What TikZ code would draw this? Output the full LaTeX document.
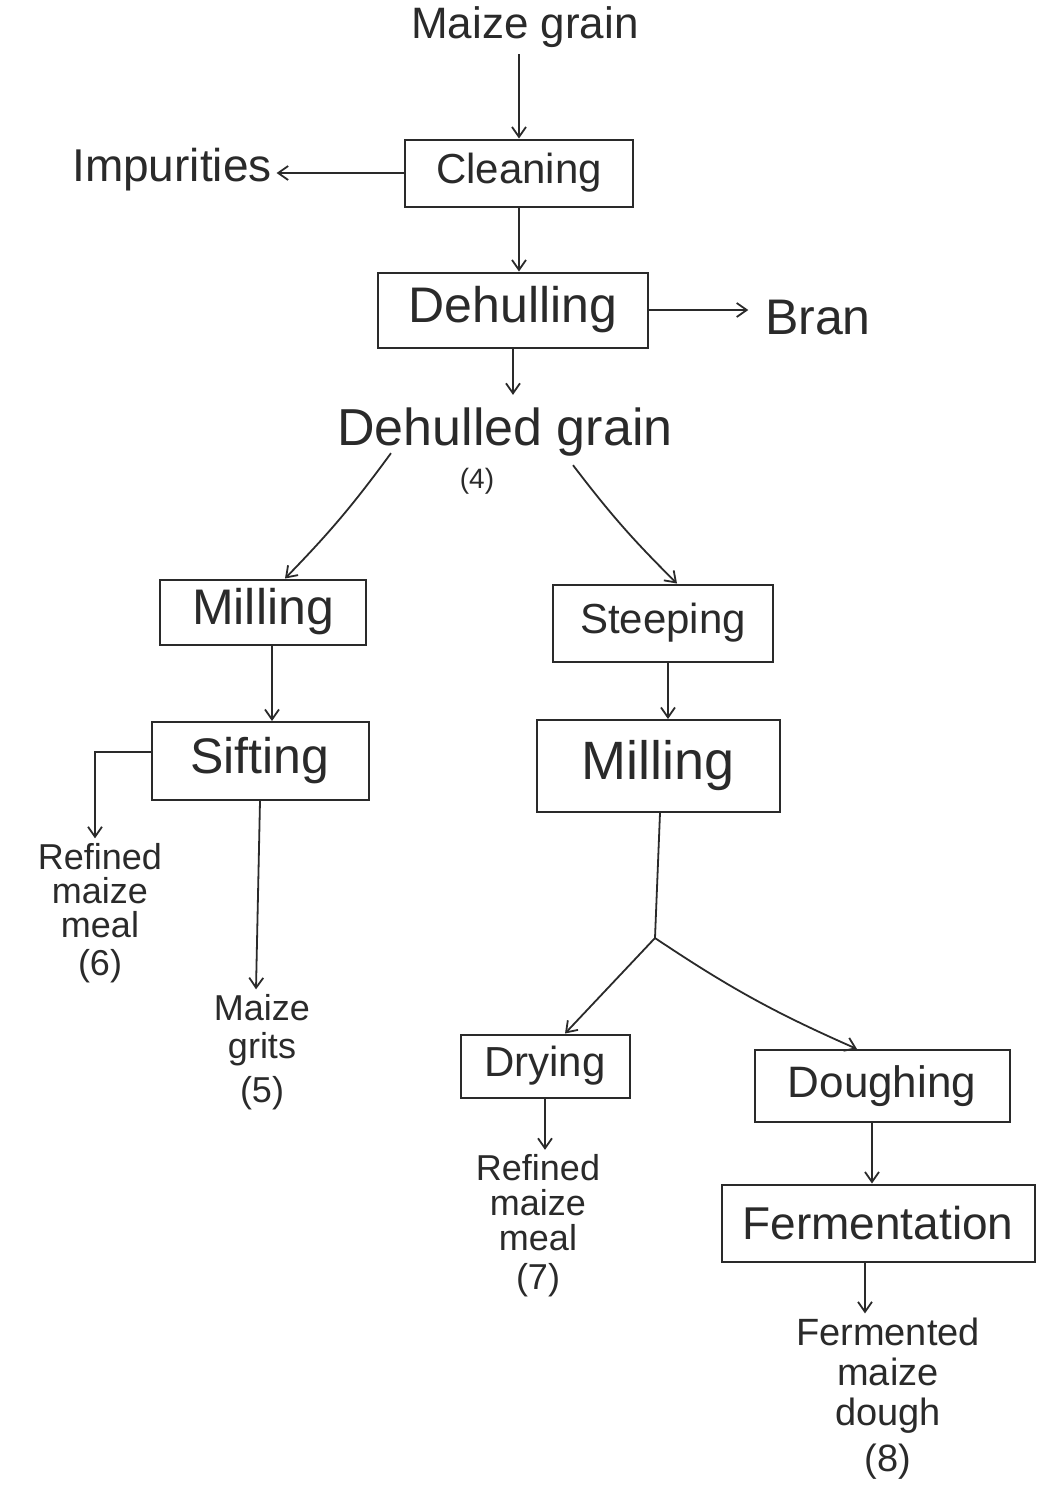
\documentclass[tikz,border=0pt]{standalone}
\usepackage{fontspec}
\setmainfont{Liberation Sans}
\usetikzlibrary{arrows.meta}
\newcommand\fsz[2]{\fontsize{#1}{#2}\selectfont}
\definecolor{ink}{HTML}{2A2A2A}
\begin{document}
\begin{tikzpicture}[x=0.5pt,y=-0.5pt,
  line width=0.9pt, draw=ink, text=ink,
  arr/.style={draw=ink,-{Straight Barb[length=5pt,width=7pt]}},
  box/.style={draw=ink, rectangle, inner sep=0pt, line width=1pt},
  txt/.style={inner sep=0pt, align=center, text=ink},
]
\useasboundingbox (0,0) rectangle (1043,1485);

% top chain
\node[txt, font=\fsz{22}{22}] (maize) at (525,27) {Maize grain};
\node[box, minimum width=114pt, minimum height=33.5pt, font=\fsz{21}{21}] (clean) at (519,173) {Cleaning};
\node[txt, font=\fsz{23}{23}] (impur) at (172,170) {Impurities};
\node[box, minimum width=135pt, minimum height=37.5pt, font=\fsz{25}{25}] (dehull) at (513,310) {Dehulling};
\node[txt, font=\fsz{25}{25}] (bran) at (818,318) {Bran};
\node[txt, font=\fsz{26}{26}] (dg) at (505,432) {Dehulled grain};
\node[txt, font=\fsz{14}{14}] (dgnum) at (477,481) {(4)};

% left branch
\node[box, minimum width=103pt, minimum height=32.5pt, font=\fsz{25}{25}] (millL) at (263,612) {Milling};
\node[box, minimum width=108.5pt, minimum height=39pt, font=\fsz{25}{25}] (sift) at (260,761) {Sifting};
\node[txt, font=\fsz{18}{17}] (ref6) at (100,913) {Refined\\maize\\meal\\[2pt](6)};
\node[txt, font=\fsz{18}{19}] (grits) at (262,1052) {Maize\\grits\\[3pt](5)};

% right branch
\node[box, minimum width=110pt, minimum height=38.5pt, font=\fsz{21}{21}] (steep) at (663,623) {Steeping};
\node[box, minimum width=121.5pt, minimum height=46pt, font=\fsz{27}{27}] (millR) at (658,766) {Milling};
\coordinate (jn) at (655,938);
\node[box, minimum width=84.5pt, minimum height=31.5pt, font=\fsz{21}{21}] (dry) at (545,1066) {Drying};
\node[box, minimum width=127.5pt, minimum height=36pt, font=\fsz{22}{22}] (dough) at (882,1086) {Doughing};
\node[txt, font=\fsz{18}{17.5}] (ref7) at (538,1226) {Refined\\maize\\meal\\[2pt](7)};
\node[box, minimum width=156.5pt, minimum height=38.5pt, font=\fsz{23}{23}] (ferm) at (878,1223) {Fermentation};
\node[txt, font=\fsz{19}{20}] (fmd) at (888,1399) {Fermented\\maize\\dough\\[3pt](8)};

% connectors
\draw[arr] (clean.north |- maize.south) ++(0,6) -- (clean.north);
\draw[arr, shorten >=2pt] (clean.west) -- (impur.east |- clean.west);
\draw[arr] (dehull.north -| clean.south) ++(0,-65) -- (dehull.north -| clean.south);
\draw[arr, shorten >=8pt] (dehull.east) -- (bran.west |- dehull.east);
\draw[arr] (dehull.south) -- ([yshift=6pt]dehull.south |- dg.north);

\draw[arr] ([xshift=-57pt,yshift=2pt]dg.south) to[bend left=4] ([xshift=11pt]millL.north);
\draw[arr] ([xshift=34pt,yshift=-4pt]dg.south) to[bend right=4] ([xshift=7pt]steep.north);

\draw[arr] ([xshift=4.5pt]millL.south) -- ([xshift=4.5pt]millL.south |- sift.north);
\draw[arr] ([yshift=4.5pt]sift.west) -| ([xshift=-2.5pt,yshift=2pt]ref6.north);
\draw[arr] (sift.south) -- ([xshift=-3pt,yshift=2pt]grits.north);

\draw[arr] ([xshift=2.5pt]steep.south) -- ([xshift=2.5pt]steep.south |- millR.north);
\draw ([xshift=1pt]millR.south) -- (jn);
\draw[arr] (jn) -- ([xshift=10pt]dry.north);
\draw[arr] (jn) to[bend right=5] ([xshift=-12.5pt]dough.north);
\draw[arr] (dry.south) -- ([yshift=2pt]dry.south |- ref7.north);
\draw[arr] ([xshift=-5pt]dough.south) -- ([xshift=-5pt]dough.south |- ferm.north);
\draw[arr] ([xshift=-6.5pt]ferm.south) -- ([xshift=-6.5pt,yshift=2pt]ferm.south |- fmd.north);
\end{tikzpicture}
\end{document}
